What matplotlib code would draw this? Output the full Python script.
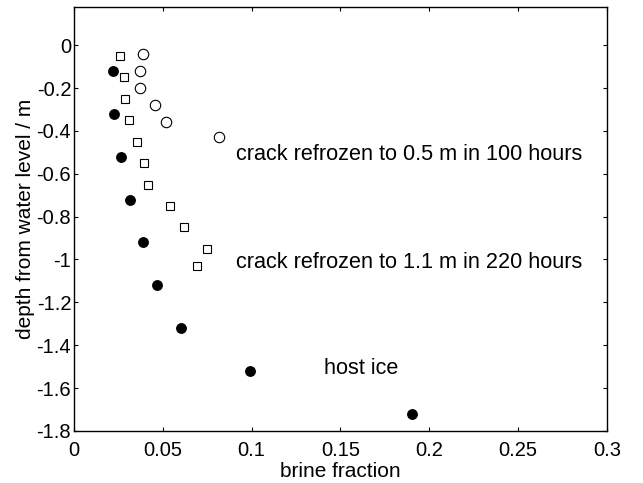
import numpy as np
import matplotlib
matplotlib.use("Agg")
import matplotlib.pyplot as plt

plt.rcParams['font.family'] = ['Liberation Sans', 'DejaVu Sans']
plt.rcParams['axes.unicode_minus'] = False

# crack refrozen to 0.5 m in 100 hours (open circles)
crack05_x = [0.039, 0.037, 0.037, 0.0455, 0.052, 0.0815]
crack05_y = [-0.04, -0.12, -0.20, -0.28, -0.36, -0.43]

# crack refrozen to 1.1 m in 220 hours (open squares)
crack11_x = [0.026, 0.028, 0.029, 0.031, 0.0356, 0.0395, 0.0416, 0.054, 0.062, 0.075, 0.069]
crack11_y = [-0.05, -0.15, -0.25, -0.35, -0.45, -0.55, -0.65, -0.75, -0.85, -0.95, -1.03]

# host ice (filled circles)
host_x = [0.022, 0.0228, 0.0266, 0.0316, 0.0386, 0.0467, 0.0605, 0.099, 0.19]
host_y = [-0.12, -0.32, -0.52, -0.72, -0.92, -1.12, -1.32, -1.52, -1.72]

xticks = [0, 0.05, 0.1, 0.15, 0.2, 0.25, 0.3]
xticklabels = ['0', '0.05', '0.1', '0.15', '0.2', '0.25', '0.3']
yticks = [0, -0.2, -0.4, -0.6, -0.8, -1, -1.2, -1.4, -1.6, -1.8]
yticklabels = ['0', '-0.2', '-0.4', '-0.6', '-0.8', '-1', '-1.2', '-1.4', '-1.6', '-1.8']

fig = plt.figure(figsize=(6.43, 4.83), dpi=100)
ax = fig.add_axes([0.115, 0.108, 0.829, 0.878])

ax.plot(crack05_x, crack05_y, 'o', ls='none', mfc='white', mec='black', mew=0.8, ms=7.5)
ax.plot(crack11_x, crack11_y, 's', ls='none', mfc='white', mec='black', mew=0.8, ms=6.3)
ax.plot(host_x, host_y, 'o', ls='none', mfc='black', mec='black', ms=6.8)

ax.text(0.091, -0.51, 'crack refrozen to 0.5 m in 100 hours', fontsize=15.6, va='center')
ax.text(0.091, -1.015, 'crack refrozen to 1.1 m in 220 hours', fontsize=15.6, va='center')
ax.text(0.141, -1.51, 'host ice', fontsize=15.6, va='center')

ax.set_xlim(0, 0.3)
ax.set_ylim(-1.8, 0.18)
ax.set_xticks(xticks)
ax.set_xticklabels(xticklabels)
ax.set_yticks(yticks)
ax.set_yticklabels(yticklabels)
ax.tick_params(direction='in', length=3, width=0.8, labelsize=14.5,
               top=True, right=True)
ax.tick_params(axis='x', pad=7)
ax.tick_params(axis='y', pad=2)
for s in ax.spines.values():
    s.set_linewidth(1.0)

ax.set_xlabel('brine fraction', fontsize=15, labelpad=2)
ax.set_ylabel('depth from water level / m', fontsize=15, labelpad=1)

fig.savefig('out.png', dpi=100)
